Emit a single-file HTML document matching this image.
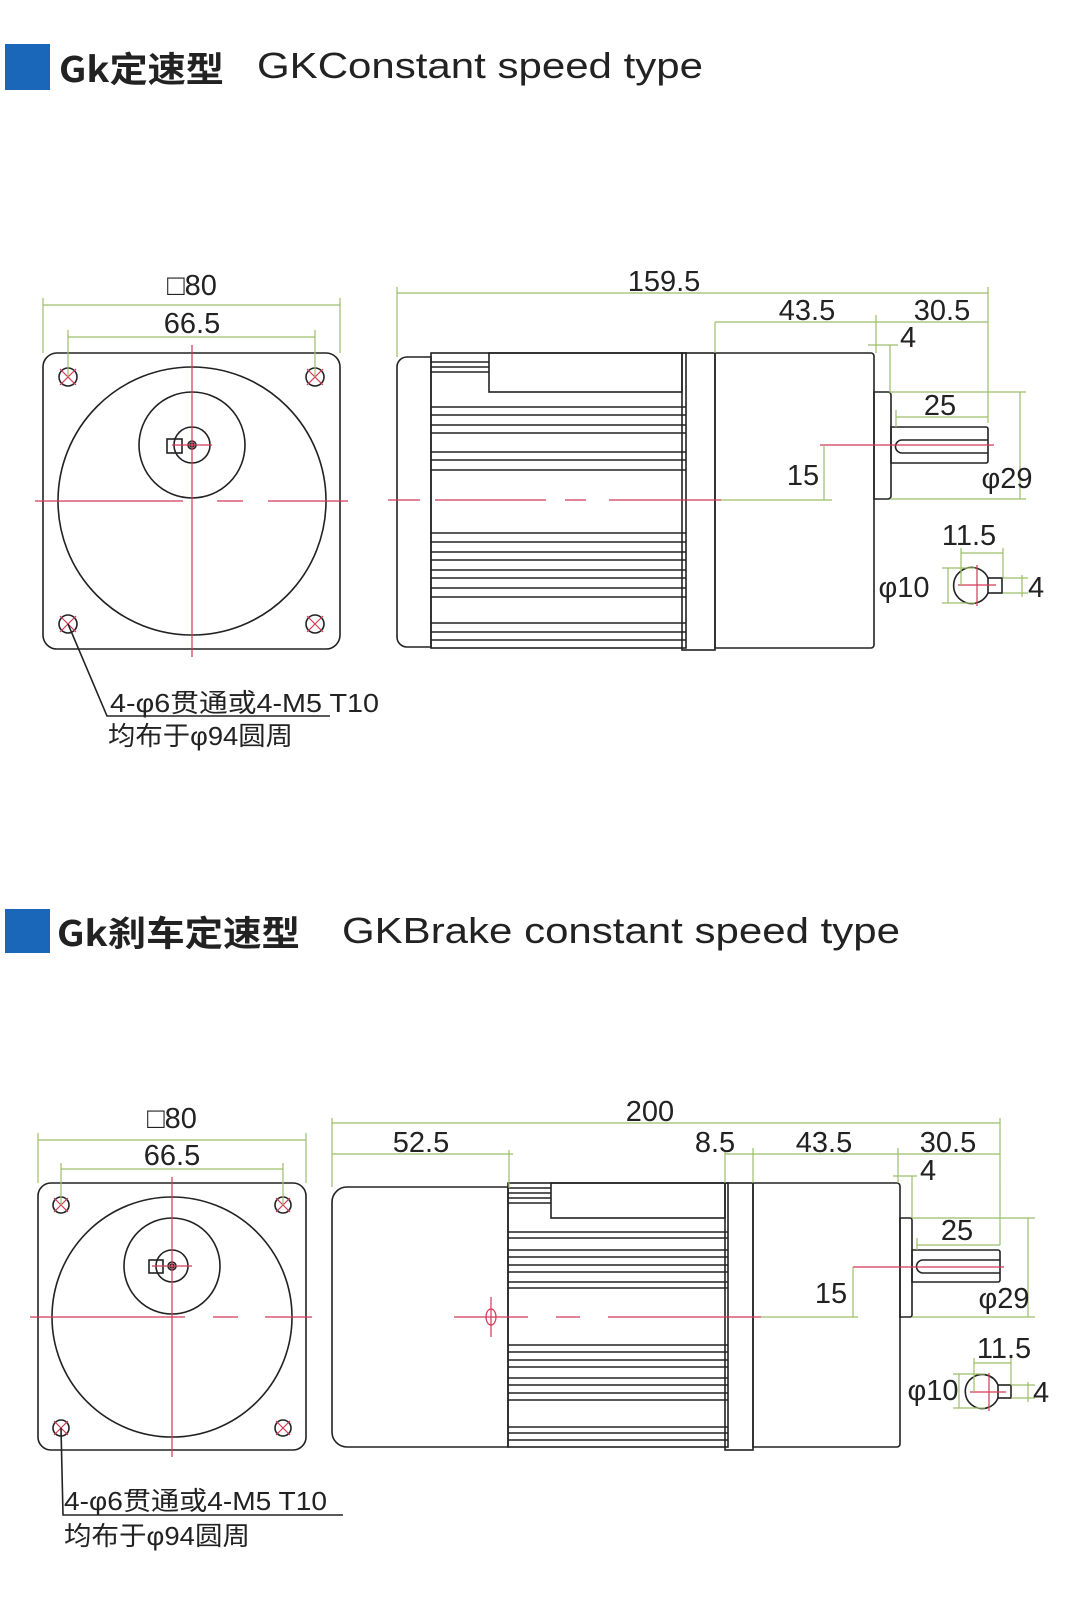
<!DOCTYPE html>
<html><head><meta charset="utf-8"><style>
html,body{margin:0;padding:0;background:#fff;}
svg{display:block}
text{font-family:"Liberation Sans","Noto Sans CJK SC",sans-serif;fill:#222}
.k{fill:none;stroke:#222;stroke-width:1.6}
.g{fill:none;stroke:#9bbf6a;stroke-width:1.2}
.r{fill:none;stroke:#d23a55;stroke-width:1.2}
.d{font-size:29px;text-anchor:middle}
</style></head><body>
<svg width="1080" height="1608" viewBox="0 0 1080 1608" xmlns="http://www.w3.org/2000/svg">
<!-- TITLE 1 -->
<rect x="5" y="44" width="45" height="46" fill="#1a66b8"/>
<text x="59" y="82" font-size="35" font-weight="bold" textLength="165" lengthAdjust="spacingAndGlyphs" style="font-family:'Noto Sans CJK SC',sans-serif">Gk定速型</text>
<text x="257" y="78" font-size="36" textLength="446" lengthAdjust="spacingAndGlyphs">GKConstant speed type</text>

<!-- LEFT VIEW 1 -->
<g>
<rect class="k" x="43" y="353" width="297" height="296" rx="14"/>
<circle class="k" cx="192" cy="501" r="134"/>
<circle class="k" cx="192" cy="445" r="53"/>
<circle class="k" cx="192" cy="445" r="18"/>
<rect class="k" x="167" y="439" width="15" height="14"/>
<circle class="k" cx="192" cy="445" r="4"/><circle class="k" cx="192" cy="445" r="2"/>
<line class="r" x1="192" y1="345" x2="192" y2="657"/>
<line class="r" x1="172" y1="445" x2="212" y2="445"/>
<path class="r" d="M35 501H183M217 501H243M268 501H348"/>
<g class="k"><circle cx="68" cy="377" r="9"/><circle cx="315" cy="377" r="9"/><circle cx="68" cy="624" r="9"/><circle cx="315" cy="624" r="9"/></g>
<path class="r" d="M60 369l16 16M76 369l-16 16M307 369l16 16M323 369l-16 16M60 616l16 16M76 616l-16 16M307 616l16 16M323 616l-16 16"/>
<path class="g" d="M43 298V353M340 298V353M43 305H340M68 330V377M315 330V377M68 337H315"/>
<text class="d" x="192" y="295" font-size="32">□80</text>
<text class="d" x="192" y="333">66.5</text>
<path class="k" d="M68 624L107 716H330"/>
<text x="110" y="712" font-size="26" textLength="269" lengthAdjust="spacingAndGlyphs">4-φ6贯通或4-M5 T10</text>
<text x="108" y="745" font-size="26" textLength="185" lengthAdjust="spacingAndGlyphs">均布于φ94圆周</text>
</g>

<!-- SIDE VIEW 1 -->
<g>
<path class="k" d="M431 357H407a10 10 0 0 0 -10 10V637a10 10 0 0 0 10 10H431Z"/>
<rect class="k" x="431" y="353" width="255" height="295"/>
<rect class="k" x="489" y="353" width="193" height="39"/>
<rect class="k" x="682" y="353" width="33" height="297"/>
<path class="k" d="M715 353H871a3 3 0 0 1 3 3V645a3 3 0 0 1 -3 3H715Z"/>
<path class="k" d="M431 362H489M431 367H489M431 372H489"/>
<path class="k" d="M431 407H686M431 415H686M431 425H686M431 433H686M431 452H686M431 460H686M431 470H686M431 533H686M431 542H686M431 552H686M431 560H686M431 570H686M431 578H686M431 588H686M431 597H686M431 623H686M431 632H686M431 640H686"/>
<path class="k" d="M874 392H888a3 3 0 0 1 3 3V496a3 3 0 0 1 -3 3H874Z"/>
<path class="k" d="M891 427H986a2 2 0 0 1 2 2V461a2 2 0 0 1 -2 2H891Z"/>
<path class="k" d="M988 440H902a6.5 6.5 0 0 0 0 13H988"/>
<path class="r" d="M820 445H994M388 500H420M435 500H546M565 500H586M609 500H721"/>
<path class="g" d="M721 500H832M824 445V500"/>
<path class="g" d="M397 287V357M988 287V423M397 293H988M715 322V353M876 315V353M715 322H988M868 345H898M890 345V393M896 417H988M896 410V427M890 392H1026M890 499H1026M1020 392V499"/>
<text class="d" x="664" y="291">159.5</text>
<text class="d" x="807" y="320">43.5</text>
<text class="d" x="942" y="320">30.5</text>
<text x="900" y="347" font-size="29">4</text>
<text class="d" x="940" y="415">25</text>
<text class="d" x="803" y="485">15</text>
<text class="d" x="1007" y="488">φ29</text>
<!-- section -->
<path class="k" d="M988 578A18 18 0 1 0 988 593"/>
<rect class="k" x="988" y="578" width="14" height="15"/>
<path class="r" d="M958 585H996M977 565V606"/>
<path class="g" d="M961 553H1003M961 548V585M1003 548V578M948 568V603M942 568H975M942 603H975M1022 575V597M1003 578H1028M1003 593H1028"/>
<text class="d" x="969" y="545">11.5</text>
<text class="d" x="904" y="597">φ10</text>
<text x="1028" y="597" font-size="29">4</text>
</g>

<!-- TITLE 2 -->
<rect x="5" y="909" width="45" height="44" fill="#1a66b8"/>
<text x="57" y="946" font-size="35" font-weight="bold" textLength="243" lengthAdjust="spacingAndGlyphs" style="font-family:'Noto Sans CJK SC',sans-serif">Gk刹车定速型</text>
<text x="342" y="943" font-size="36" textLength="558" lengthAdjust="spacingAndGlyphs">GKBrake constant speed type</text>

<!-- LEFT VIEW 2 -->
<g>
<rect class="k" x="38" y="1183" width="268" height="267" rx="13"/>
<circle class="k" cx="172" cy="1317" r="120"/>
<circle class="k" cx="172" cy="1266" r="48"/>
<circle class="k" cx="172" cy="1266" r="16"/>
<rect class="k" x="149" y="1260" width="14" height="13"/>
<circle class="k" cx="172" cy="1266" r="4"/><circle class="k" cx="172" cy="1266" r="2"/>
<line class="r" x1="172" y1="1177" x2="172" y2="1457"/>
<line class="r" x1="152" y1="1266" x2="192" y2="1266"/>
<path class="r" d="M30 1317H185M213 1317H238M265 1317H312"/>
<g class="k"><circle cx="61" cy="1205" r="8"/><circle cx="283" cy="1205" r="8"/><circle cx="61" cy="1428" r="8"/><circle cx="283" cy="1428" r="8"/></g>
<path class="r" d="M54 1198l14 14M68 1198l-14 14M276 1198l14 14M290 1198l-14 14M54 1421l14 14M68 1421l-14 14M276 1421l14 14M290 1421l-14 14"/>
<path class="g" d="M38 1133V1183M306 1133V1183M38 1140H306M61 1163V1205M283 1163V1205M61 1169H283"/>
<text class="d" x="172" y="1128" font-size="31">□80</text>
<text class="d" x="172" y="1165">66.5</text>
<path class="k" d="M61 1428L63 1515H343"/>
<text x="64" y="1510" font-size="26" textLength="263" lengthAdjust="spacingAndGlyphs">4-φ6贯通或4-M5 T10</text>
<text x="64" y="1545" font-size="26" textLength="186" lengthAdjust="spacingAndGlyphs">均布于φ94圆周</text>
</g>

<!-- SIDE VIEW 2 -->
<g>
<path class="k" d="M508 1187H347a15 15 0 0 0 -15 15V1432a15 15 0 0 0 15 15H508Z"/>
<rect class="k" x="508" y="1183" width="220" height="264"/>
<rect class="k" x="551" y="1183" width="174" height="35"/>
<rect class="k" x="725" y="1183" width="28" height="267"/>
<path class="k" d="M753 1183H897a3 3 0 0 1 3 3V1444a3 3 0 0 1 -3 3H753Z"/>
<path class="k" d="M508 1188H551M508 1193H551M508 1198H551M508 1203H551"/>
<path class="k" d="M508 1232H728M508 1238H728M508 1250H728M508 1257H728M508 1265H728M508 1272H728M508 1282H728M508 1288H728M508 1345H728M508 1352H728M508 1360H728M508 1367H728M508 1378H728M508 1385H728M508 1393H728M508 1400H728M508 1427H728M508 1433H728M508 1440H728"/>
<path class="k" d="M900 1218H910a2 2 0 0 1 2 2V1315a2 2 0 0 1 -2 2H900Z"/>
<path class="k" d="M912 1250H998a2 2 0 0 1 2 2V1280a2 2 0 0 1 -2 2H912Z"/>
<path class="k" d="M1000 1260H923a6.5 6.5 0 0 0 0 13H1000"/>
<path class="r" d="M454 1317H528M556 1317H580M608 1317H761M853 1267H1004M491 1297V1337"/>
<ellipse class="r" cx="491" cy="1317" rx="5" ry="8"/>
<path class="g" d="M761 1317H858M853 1267V1317"/>
<path class="g" d="M332 1118V1187M1000 1118V1245M332 1123H1000M332 1154H513M509 1150V1188M725 1154H898M725 1150V1183M753 1148V1183M898 1148V1183M898 1154H1000M893 1176H917M912 1176V1218M917 1245H1000M917 1238V1250M912 1218H1035M912 1317H1035M1028 1218V1317"/>
<text class="d" x="650" y="1121">200</text>
<text class="d" x="421" y="1152">52.5</text>
<text class="d" x="715" y="1152">8.5</text>
<text class="d" x="824" y="1152">43.5</text>
<text class="d" x="948" y="1152">30.5</text>
<text x="920" y="1180" font-size="29">4</text>
<text class="d" x="957" y="1240">25</text>
<text class="d" x="831" y="1303">15</text>
<text class="d" x="1004" y="1308">φ29</text>
<!-- section -->
<path class="k" d="M998 1385A17 17 0 1 0 998 1398"/>
<rect class="k" x="998" y="1385" width="13" height="13"/>
<path class="r" d="M970 1392H1006M989 1373V1411"/>
<path class="g" d="M974 1363H1011M974 1358V1392M1011 1358V1385M959 1374V1408M953 1374H985M953 1408H985M1028 1382V1402M1011 1385H1035M1011 1398H1035"/>
<text class="d" x="1004" y="1358">11.5</text>
<text class="d" x="933" y="1400">φ10</text>
<text x="1033" y="1402" font-size="29">4</text>
</g>
</svg>
</body></html>
